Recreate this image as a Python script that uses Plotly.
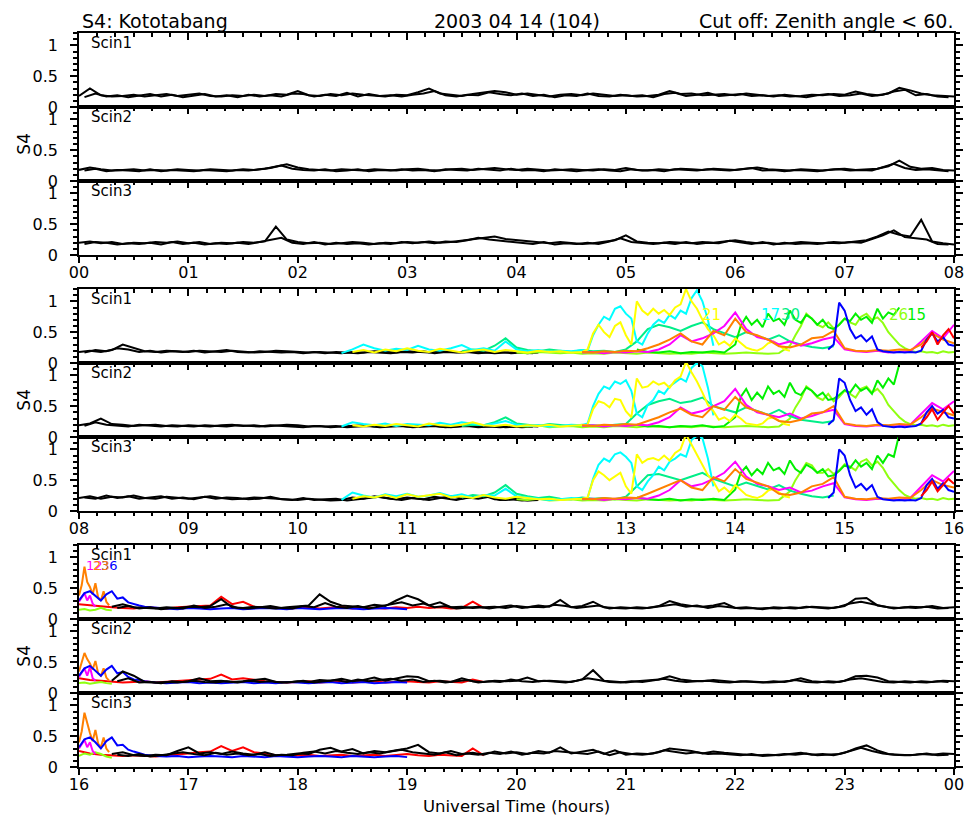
import numpy as np
import plotly.graph_objects as go

# ---------------- data: S4 index x 100 ----------------
# top group 00-08 UT; series A sampled from 0.0 h, series B from 0.05 h, both every 0.1 h
T1_BLACK = [18, 30, 19, 17, 18, 20, 17, 19, 21, 18,
            20, 22, 18, 17, 19, 18, 20, 18, 21, 20,
            26, 19, 18, 21, 19, 22, 20, 19, 17, 20,
            19, 24, 30, 22, 20, 18, 21, 23, 26, 24,
            20, 22, 19, 17, 20, 21, 19, 22, 20, 18,
            19, 17, 18, 20, 26, 21, 22, 19, 20, 21,
            19, 22, 20, 18, 19, 17, 18, 20, 19, 21,
            20, 25, 21, 19, 22, 31, 27, 22, 19, 18, 17]
T2_BLACK = [18, 22, 19, 17, 18, 19, 17, 18, 17, 19,
            18, 17, 19, 18, 17, 19, 18, 20, 23, 27,
            22, 19, 18, 17, 19, 18, 17, 19, 18, 17,
            19, 20, 18, 17, 19, 20, 18, 19, 21, 19,
            18, 20, 19, 17, 18, 19, 18, 17, 19, 18,
            21, 18, 17, 19, 18, 20, 19, 18, 20, 19,
            18, 20, 22, 19, 18, 17, 19, 18, 17, 19,
            20, 18, 19, 20, 24, 33, 23, 20, 21, 18, 17]
T3_BLACK = [20, 22, 19, 21, 18, 20, 19, 21, 20, 22,
            19, 21, 18, 20, 19, 21, 20, 22, 46, 25,
            21, 19, 20, 18, 19, 21, 20, 18, 20, 19,
            21, 20, 22, 20, 21, 23, 25, 27, 30, 26,
            24, 22, 20, 19, 21, 20, 18, 19, 21, 24,
            32, 22, 20, 19, 21, 20, 19, 21, 20, 22,
            24, 21, 19, 20, 18, 19, 21, 20, 19, 21,
            20, 22, 24, 30, 38, 33, 30, 57, 22, 19, 17]
T1_BLACK_B = [16, 22, 17, 19, 16, 18, 21, 17, 20, 16,
              18, 21, 17, 19, 16, 20, 17, 19, 17, 22,
              21, 17, 20, 18, 23, 17, 21, 18, 19, 17,
              20, 22, 26, 19, 17, 20, 19, 24, 21, 19,
              22, 18, 20, 16, 19, 18, 22, 18, 17, 20,
              18, 19, 16, 21, 23, 18, 20, 23, 18, 19,
              21, 18, 19, 17, 20, 18, 16, 19, 21, 18,
              19, 22, 18, 20, 25, 28, 19, 21, 17, 16]
T2_BLACK_B = [17, 20, 16, 18, 17, 16, 19, 16, 18, 17,
              16, 18, 17, 16, 18, 17, 19, 21, 25, 20,
              18, 17, 19, 16, 17, 19, 16, 18, 17, 19,
              17, 18, 16, 19, 18, 17, 20, 18, 17, 20,
              17, 18, 16, 19, 17, 16, 18, 19, 17, 16,
              19, 17, 18, 16, 19, 18, 17, 19, 18, 17,
              19, 21, 17, 18, 16, 18, 17, 16, 18, 19,
              17, 18, 17, 22, 28, 21, 18, 19, 17, 16]
T3_BLACK_B = [18, 21, 20, 17, 19, 18, 20, 17, 21, 18,
              20, 17, 19, 18, 20, 18, 21, 25, 28, 20,
              18, 21, 17, 20, 18, 19, 17, 19, 18, 21,
              19, 21, 19, 22, 21, 24, 28, 25, 23, 21,
              20, 18, 21, 17, 19, 18, 20, 18, 22, 27,
              21, 19, 18, 20, 18, 21, 18, 20, 19, 23,
              20, 18, 21, 17, 20, 18, 19, 18, 20, 19,
              21, 20, 26, 32, 40, 29, 27, 25, 18, 17]

# middle group 08-16 UT
M1_BLACK = [18, 20, 18, 21, 30, 24, 19, 18, 20, 19,
            18, 20, 19, 18, 20, 19, 17, 18, 20, 19,
            18, 17, 18, 17, 16, 18, 17, 19, 18, 17,
            19, 18, 17, 19, 18, 17, 19, 18, 16, 17,
            18, 16, 17]
M2_BLACK = [19, 22, 30, 21, 20, 18, 19, 20, 18, 17,
            19, 18, 17, 19, 20, 18, 19, 17, 18, 20,
            19, 17, 18, 16, 17, 18, 19, 17, 18, 19,
            17, 18, 19, 17, 16, 18, 19, 17, 18, 16,
            17, 18, 17]
M3_BLACK = [21, 24, 20, 23, 22, 25, 21, 20, 23, 21,
            20, 22, 24, 21, 19, 20, 22, 21, 20, 19,
            18, 20, 19, 17, 18, 22, 20, 24, 21, 19,
            22, 20, 18, 21, 24, 20, 22, 25, 19, 18,
            20, 17, 18]
M1_BLACK_B = [17, 21, 19, 24, 22, 18, 20, 17, 19, 18,
              20, 17, 19, 21, 18, 17, 19, 18, 17, 18,
              16, 18, 16, 18, 17, 16, 18, 17, 16, 18,
              17, 19, 16, 18, 17, 18, 16, 17, 18, 16,
              17, 16]
M2_BLACK_B = [18, 24, 20, 19, 17, 20, 18, 17, 19, 18,
              17, 19, 18, 17, 19, 18, 17, 19, 18, 17,
              16, 18, 17, 18, 16, 17, 18, 16, 17, 18,
              16, 17, 18, 16, 17, 18, 16, 17, 16, 17,
              16, 17]
M3_BLACK_B = [22, 20, 25, 21, 24, 20, 22, 24, 20, 22,
              19, 23, 20, 22, 21, 19, 20, 23, 19, 18,
              21, 18, 19, 20, 17, 19, 21, 23, 20, 18,
              21, 19, 23, 20, 18, 22, 20, 23, 18, 19,
              17, 18]
# cyan: quiet part (0.1 h) then active part (0.05 h)
M1_CYAN_LOW = [16, 22, 30, 24, 20, 23, 21, 28, 22, 20,
               24, 29, 21, 24, 20, 35, 22, 19, 21, 18,
               20, 19, 21]
M2_CYAN_LOW = [17, 24, 21, 19, 22, 18, 21, 20, 19, 23,
               20, 24, 21, 19, 22, 26, 20, 18, 19, 17,
               18, 20, 19]
M3_CYAN_LOW = [18, 30, 25, 22, 27, 24, 28, 23, 25, 29,
               24, 27, 22, 26, 25, 36, 24, 22, 20, 18,
               19, 21, 20]
M1_CYAN_HIGH = [20, 45, 62, 75, 70, 88, 92, 80, 72, 35, 30, 48,
                62, 70, 65, 78, 72, 85, 80, 105, 118, 100, 70, 28]
M2_CYAN_HIGH = [22, 50, 70, 82, 78, 90, 86, 92, 75, 38, 32, 52,
                60, 75, 70, 82, 88, 95, 90, 112, 120, 115, 80, 35]
M3_CYAN_HIGH = [21, 52, 75, 85, 80, 92, 95, 88, 78, 40, 34, 48,
                58, 72, 66, 80, 85, 92, 88, 115, 122, 118, 85, 40]
M1_YELLOW_LOW = [18, 21, 17, 22, 19, 24, 20, 18, 23, 20,
                 17, 20, 22, 18, 21, 19, 17, 20, 18, 19,
                 17, 18]
M2_YELLOW_LOW = [19, 17, 20, 18, 21, 19, 17, 22, 19, 18,
                 20, 24, 19, 18, 20, 17, 19, 18, 20, 17,
                 18, 19]
M3_YELLOW_LOW = [20, 24, 22, 26, 21, 27, 23, 25, 28, 22,
                 24, 21, 26, 22, 20, 23, 21, 19, 20, 18,
                 19, 20]
M1_YELLOW_HIGH = [22, 48, 62, 50, 42, 60, 66, 45, 30, 100,
                  85, 78, 88, 80, 86, 78, 90, 95, 120, 100,
                  88, 70, 55, 45, 30, 35, 28, 40, 32, 25,
                  22, 20, 24, 32, 35, 28, 22, 20]
M2_YELLOW_HIGH = [20, 45, 58, 55, 48, 62, 60, 42, 32, 95,
                  80, 82, 90, 85, 88, 80, 92, 98, 122, 105,
                  90, 72, 52, 42, 28, 32, 26, 36, 30, 22,
                  20, 19, 22, 30, 32, 26, 21, 19]
M3_YELLOW_HIGH = [22, 50, 64, 58, 50, 56, 62, 40, 28, 92,
                  78, 84, 86, 82, 90, 82, 94, 100, 124, 108,
                  92, 75, 58, 48, 32, 38, 30, 42, 34, 26,
                  23, 21, 25, 33, 36, 30, 24, 22]
M1_SPRING = [19, 22, 20, 28, 40, 25, 21, 19, 22, 20,
             18, 21, 19, 20, 18, 22, 35, 55, 62, 58,
             52, 60, 66, 55, 48, 42, 50, 44, 38, 45,
             35, 30, 26, 24, 27]
M2_SPRING = [18, 20, 19, 24, 32, 22, 20, 18, 21, 19,
             18, 20, 19, 18, 20, 21, 38, 52, 58, 62,
             55, 58, 64, 50, 45, 40, 48, 42, 36, 44,
             34, 28, 25, 23, 26]
M3_SPRING = [22, 26, 24, 30, 42, 28, 24, 21, 23, 20,
             19, 22, 20, 21, 19, 23, 40, 58, 60, 55,
             50, 56, 62, 52, 46, 40, 46, 40, 35, 42,
             33, 28, 24, 22, 25]
M1_GREEN_LOW = [22, 18, 17, 19, 16, 18, 17, 19, 17]
M2_GREEN_LOW = [20, 17, 18, 16, 18, 17, 19, 16, 18]
M3_GREEN_LOW = [22, 19, 18, 20, 17, 19, 18, 20, 18]
M1_GREEN_HIGH = [30, 60, 75, 62, 70, 58, 80, 68, 72, 62,
                 85, 70, 65, 78, 72, 62, 70, 58, 55, 62,
                 72, 68, 80, 70, 75, 65, 88, 72, 82, 78, 90]
M2_GREEN_HIGH = [32, 65, 78, 60, 72, 62, 82, 70, 75, 65,
                 88, 72, 68, 80, 75, 66, 72, 60, 62, 68,
                 76, 72, 85, 75, 80, 70, 92, 80, 95, 85, 118]
M3_GREEN_HIGH = [35, 62, 72, 58, 68, 60, 78, 66, 70, 60,
                 82, 68, 62, 75, 70, 62, 68, 56, 58, 65,
                 74, 70, 82, 72, 78, 68, 90, 78, 92, 88, 125]
M1_CHART_LOW = [17, 16, 18, 17, 16, 17, 15, 16, 15, 17,
                16, 15, 17, 16, 15, 16, 15, 17, 16, 15,
                16, 17, 16, 15, 16]
M2_CHART_LOW = [18, 17, 19, 16, 17, 18, 16, 17, 16, 18,
                17, 16, 18, 17, 16, 17, 16, 18, 17, 16,
                17, 18, 17, 16, 17]
M3_CHART_LOW = [19, 18, 20, 17, 18, 19, 17, 18, 17, 19,
                18, 17, 19, 18, 17, 18, 17, 19, 18, 17,
                18, 19, 18, 17, 18]
M1_CHART_HIGH = [22, 28, 45, 60, 80, 72, 62, 58, 66, 56,
                 62, 72, 66, 62, 75, 80, 70, 74, 65, 50,
                 40, 30, 24, 20, 18, 19, 17, 18, 16, 19, 17, 18]
M2_CHART_HIGH = [24, 30, 48, 62, 82, 75, 64, 60, 70, 58,
                 65, 75, 70, 64, 78, 82, 72, 78, 68, 52,
                 42, 32, 25, 21, 19, 20, 18, 19, 17, 20, 18, 19]
M3_CHART_HIGH = [25, 32, 50, 64, 78, 74, 62, 62, 68, 60,
                 66, 76, 72, 66, 80, 84, 74, 80, 70, 55,
                 44, 34, 26, 22, 20, 21, 19, 20, 18, 21, 19, 20]
M1_MAGENTA = [17, 18, 16, 18, 17, 19, 18, 22, 30, 45,
              35, 40, 48, 60, 82, 55, 42, 38, 30, 35,
              28, 32, 38, 42, 22, 19, 18, 20, 17, 18,
              19, 35, 52, 40, 62]
M2_MAGENTA = [18, 19, 17, 19, 18, 20, 19, 24, 32, 48,
              38, 42, 50, 58, 78, 52, 40, 36, 32, 38,
              30, 34, 40, 44, 21, 18, 17, 19, 18, 17,
              20, 38, 55, 45, 58]
M3_MAGENTA = [19, 20, 18, 20, 19, 21, 20, 25, 34, 50,
              40, 44, 52, 62, 80, 56, 44, 40, 34, 38,
              30, 33, 40, 45, 22, 19, 18, 20, 19, 18,
              21, 40, 58, 48, 65]
M1_ORANGE = [18, 17, 19, 18, 20, 19, 24, 30, 38, 48,
             35, 30, 52, 45, 72, 50, 45, 38, 27, 25,
             30, 40, 42, 52, 24, 20, 19, 21, 20, 22,
             21, 30, 48, 38, 32]
M2_ORANGE = [19, 18, 20, 19, 21, 20, 26, 32, 40, 46,
             36, 32, 50, 44, 65, 48, 42, 36, 26, 24,
             28, 38, 40, 50, 22, 19, 18, 20, 19, 21,
             20, 32, 46, 40, 35]
M3_ORANGE = [20, 19, 21, 20, 22, 21, 28, 35, 42, 50,
             38, 34, 55, 48, 68, 52, 46, 40, 28, 26,
             30, 40, 44, 55, 23, 20, 19, 21, 20, 22,
             21, 34, 50, 42, 38]
M1_BLUE = [22, 30, 98, 85, 55, 40, 45, 35, 43, 22, 19, 18,
           17, 18, 17, 18, 17, 20, 38, 48, 35, 42, 30, 28]
M2_BLUE = [20, 28, 95, 88, 60, 42, 48, 36, 45, 24, 18, 17,
           16, 17, 16, 17, 18, 22, 40, 50, 38, 44, 32, 30]
M3_BLUE = [21, 30, 100, 90, 58, 38, 44, 34, 42, 23, 19, 18,
           17, 18, 17, 18, 17, 21, 42, 52, 36, 45, 34, 31]
M1_RED = [25, 35, 50, 30, 45, 55, 40]
M2_RED = [22, 32, 45, 28, 40, 50, 38]
M3_RED = [24, 34, 48, 32, 42, 52, 44]

# bottom group 16-24 UT
B1_BLACK = [20, 24, 19, 18, 17, 19, 18, 20, 19, 21,
            32, 19, 18, 20, 19, 17, 19, 20, 22, 40,
            28, 22, 20, 19, 23, 21, 30, 38, 32, 22,
            27, 19, 20, 18, 19, 20, 18, 21, 19, 22,
            20, 31, 19, 21, 28, 19, 18, 17, 19, 18,
            21, 29, 24, 21, 20, 22, 26, 18, 19, 17,
            18, 17, 19, 18, 20, 19, 18, 21, 33, 34,
            22, 19, 18, 20, 19, 21, 18, 19]
B2_BLACK = [20, 35, 28, 18, 17, 18, 17, 19, 24, 19,
            20, 18, 19, 21, 23, 18, 17, 19, 18, 21,
            20, 23, 19, 21, 25, 20, 24, 27, 26, 19,
            20, 18, 24, 19, 18, 20, 19, 20, 25, 19,
            20, 19, 18, 22, 37, 20, 19, 17, 19, 20,
            22, 27, 22, 20, 19, 21, 19, 18, 19, 18,
            17, 18, 20, 24, 19, 18, 17, 20, 27, 28,
            25, 19, 18, 17, 19, 18, 20, 19]
B3_BLACK = [21, 24, 19, 18, 20, 19, 26, 32, 22, 24,
            21, 25, 22, 20, 24, 19, 20, 22, 21, 28,
            31, 25, 29, 22, 26, 24, 27, 30, 36, 24,
            22, 26, 21, 23, 20, 25, 22, 24, 21, 26,
            23, 32, 22, 25, 28, 21, 27, 20, 22, 21,
            24, 30, 28, 26, 22, 25, 23, 21, 20, 19,
            20, 19, 21, 23, 20, 21, 19, 23, 30, 35,
            27, 21, 20, 19, 21, 20, 22, 21]
B1_BLACK_B = [18, 21, 17, 19, 16, 18, 17, 22, 18, 20,
              24, 18, 17, 19, 21, 18, 17, 21, 19, 26,
              20, 18, 21, 17, 20, 24, 27, 22, 25, 19,
              21, 17, 19, 20, 17, 19, 22, 18, 20, 19,
              23, 21, 18, 20, 22, 17, 19, 18, 17, 19,
              22, 24, 20, 22, 18, 21, 19, 17, 18, 16,
              19, 18, 17, 20, 18, 17, 20, 25, 28, 24,
              20, 17, 19, 18, 20, 17, 18]
B2_BLACK_B = [19, 24, 17, 18, 16, 19, 18, 20, 18, 17,
              19, 17, 20, 18, 19, 17, 18, 20, 17, 19,
              21, 18, 22, 19, 21, 23, 20, 22, 18, 20,
              17, 19, 21, 17, 19, 18, 22, 19, 18, 20,
              18, 17, 20, 24, 21, 18, 17, 19, 18, 21,
              23, 20, 18, 19, 20, 18, 17, 19, 18, 17,
              19, 18, 21, 18, 17, 19, 18, 22, 24, 21,
              18, 17, 19, 18, 17, 19, 18]
B3_BLACK_B = [20, 18, 21, 17, 19, 22, 24, 21, 19, 23,
              20, 22, 19, 21, 18, 20, 19, 23, 25, 22,
              26, 23, 21, 24, 22, 25, 28, 24, 22, 20,
              24, 19, 22, 20, 23, 21, 25, 20, 23, 22,
              26, 24, 23, 21, 25, 19, 24, 21, 20, 22,
              27, 25, 22, 24, 21, 22, 20, 19, 21, 18,
              19, 21, 20, 22, 19, 20, 21, 26, 31, 26,
              22, 20, 19, 20, 22, 19, 20]
B1_RED = [24, 22, 20, 19, 18, 17, 19, 18, 17, 19,
          20, 21, 22, 36, 24, 28, 20, 19, 18, 17,
          18, 19, 17, 18, 20, 17, 19, 18, 17, 19,
          18, 20, 18, 19, 17, 18, 28, 18]
B2_RED = [24, 21, 20, 18, 17, 18, 19, 17, 18, 19,
          20, 21, 23, 30, 22, 24, 21, 19, 18, 17,
          18, 19, 17, 18, 19, 17, 18, 19, 17, 18,
          19, 18, 17, 19, 18, 17, 22, 18]
B3_RED = [26, 22, 20, 19, 18, 19, 18, 17, 19, 20,
          22, 24, 25, 34, 26, 32, 24, 22, 19, 18,
          19, 20, 18, 19, 20, 18, 19, 20, 18, 19,
          21, 19, 18, 20, 19, 18, 30, 19]
B1_BLUE_EARLY = [30, 42, 45, 38, 30, 40, 45, 33, 35, 27, 24, 22, 20]
B2_BLUE_EARLY = [28, 40, 44, 36, 28, 38, 44, 32, 34, 26, 22, 21, 19]
B3_BLUE_EARLY = [32, 45, 48, 40, 30, 42, 48, 35, 36, 28, 25, 22, 20]
B1_BLUE_LATE = [18, 17, 16, 18, 17, 16, 17, 18, 16, 17, 18, 17,
                16, 18, 17, 16, 17, 18, 17, 16, 17, 18, 17, 16]
B2_BLUE_LATE = [17, 16, 17, 18, 16, 17, 16, 17, 18, 16, 17, 16,
                18, 17, 16, 17, 18, 16, 17, 18, 16, 17, 18, 17]
B3_BLUE_LATE = [18, 17, 18, 16, 17, 18, 17, 16, 18, 17, 16, 18,
                17, 16, 17, 18, 17, 16, 18, 17, 16, 17, 18, 16]
B1_CHART = [15, 16, 14, 15, 18, 15, 14]
B2_CHART = [16, 17, 15, 16, 18, 16, 15]
B3_CHART = [18, 22, 20, 24, 21, 17, 15]
B1_MAGENTA = [28, 35, 42, 30, 38, 25, 20]
B2_MAGENTA = [26, 32, 40, 28, 42, 24, 20]
B3_MAGENTA = [30, 36, 44, 32, 40, 26, 21]
B1_ORANGE = [38, 55, 85, 60, 52, 40, 58, 35, 30, 45, 28, 22]
B2_ORANGE = [35, 50, 65, 55, 48, 38, 52, 32, 28, 40, 25, 20]
B3_ORANGE = [40, 58, 88, 70, 55, 42, 60, 38, 32, 48, 30, 24]

# sampling: start hour and step (hours) of every series kind
START = dict(T_BLACK=0.0, T_BLACK_B=0.05, M_BLACK=8.0, M_BLACK_B=8.05,
             M_CYAN_LOW=10.4, M_CYAN_HIGH=12.65, M_YELLOW_LOW=10.5, M_YELLOW_HIGH=12.65,
             M_SPRING=11.5, M_GREEN_LOW=13.1, M_GREEN_HIGH=14.0, M_CHART_LOW=12.0,
             M_CHART_HIGH=14.45, M_MAGENTA=12.6, M_ORANGE=12.6, M_BLUE=14.85, M_RED=15.7,
             B_BLACK=16.3, B_BLACK_B=16.35, B_RED=16.0, B_BLUE_EARLY=16.0,
             B_BLUE_LATE=16.7, B_CHART=16.0, B_MAGENTA=16.0, B_ORANGE=16.0)
STEP = dict(T_BLACK=0.1, T_BLACK_B=0.1, M_BLACK=0.1, M_BLACK_B=0.1,
            M_CYAN_LOW=0.1, M_CYAN_HIGH=0.05, M_YELLOW_LOW=0.1, M_YELLOW_HIGH=0.05,
            M_SPRING=0.1, M_GREEN_LOW=0.1, M_GREEN_HIGH=0.05, M_CHART_LOW=0.1,
            M_CHART_HIGH=0.05, M_MAGENTA=0.1, M_ORANGE=0.1, M_BLUE=0.05, M_RED=0.05,
            B_BLACK=0.1, B_BLACK_B=0.1, B_RED=0.1, B_BLUE_EARLY=0.05,
            B_BLUE_LATE=0.1, B_CHART=0.05, B_MAGENTA=0.025, B_ORANGE=0.025)

GROUP_HOURS = [(0, 8), (8, 16), (16, 24)]
TICK_TEXT = [["00", "01", "02", "03", "04", "05", "06", "07", "08"],
             ["08", "09", "10", "11", "12", "13", "14", "15", "16"],
             ["16", "17", "18", "19", "20", "21", "22", "23", "00"]]
PANEL_NAMES = ["Scin1", "Scin2", "Scin3"]

# PRN labels (panel, text, colour key, hour, S4)
PRN_LABELS = [(4, "21", "yellow", 13.68, 0.78), (4, "17", "cyan", 14.22, 0.78),
              (4, "30", "spring", 14.40, 0.78), (4, "26", "chart", 15.39, 0.78),
              (4, "15", "green", 15.55, 0.78), (4, "2", "red", 16.03, 0.78),
              (7, "36", "blue", 16.18, 0.86), (7, "12", "magenta", 16.05, 0.86),
              (7, "23", "orange", 16.11, 0.86)]

# ---------------- styling ----------------
COL = dict(black="#000000", cyan="#00FFFF", yellow="#FFFF00", green="#00F000",
           spring="#00EE88", chart="#90FF10", magenta="#FF00FF", orange="#FF8000",
           blue="#0000FF", red="#FF0000")
FONT = "DejaVu Sans"
OFF = 8                      # page body margin of the html page
W, H = 976 - OFF, 816 - OFF  # figure size so that it ends at the window edge
ML, MR, MT, MB = 79 - OFF, 12, 33 - OFF, 49
PH = H - MT - MB
PW = W - ML - MR
GROUP_TOP = [33, 289, 545]   # window pixels
PANEL_H = 74


def fy(py):
    return (H - MB - (py - OFF)) / PH


def fx(px):
    return (px - OFF - ML) / PW


fig = go.Figure()
layout = {}


def ax(name, k):
    return name if k == 1 else f"{name}{k}"


TICK = dict(tickcolor="black", tickwidth=2)
MTICK = dict(tickcolor="black", tickwidth=1.5)
for g in range(3):
    for r in range(3):
        k = g * 3 + r + 1
        top = GROUP_TOP[g] + r * PANEL_H
        bot = top + PANEL_H
        layout[ax("xaxis", k)] = dict(
            domain=[0, 1], anchor=f"y{k}", range=list(GROUP_HOURS[g]), side="top",
            ticks="inside", ticklen=7, **TICK,
            tickmode="linear", dtick=1, tick0=0, showticklabels=False,
            showline=True, linewidth=1.6, linecolor="black", mirror=True,
            showgrid=False, zeroline=False, layer="above traces",
            minor=dict(ticks="inside", ticklen=4, **MTICK,
                       tickmode="linear", dtick=1 / 6, tick0=0, showgrid=False))
        layout[ax("yaxis", k)] = dict(
            domain=[fy(bot), fy(top)], anchor=f"x{k}", range=[0, 1.2],
            ticks="outside", ticklen=7, **TICK,
            tickmode="linear", dtick=0.5, tick0=0,
            showline=True, linewidth=1.6, linecolor="black", mirror="ticks",
            showgrid=False, zeroline=False, ticklabelstandoff=9, layer="above traces",
            tickfont=dict(family=FONT, size=16, color="black"),
            minor=dict(ticks="outside", ticklen=4, **MTICK,
                       tickmode="linear", dtick=0.1, tick0=0, showgrid=False))
    # labelled bottom axis of each group
    kb = g * 3 + 3
    kx = 10 + g
    layout[f"xaxis{kx}"] = dict(
        overlaying=f"x{kb}", anchor=f"y{kb}", side="bottom", range=list(GROUP_HOURS[g]),
        ticks="outside", ticklen=7, **TICK,
        tickmode="array", tickvals=list(range(GROUP_HOURS[g][0], GROUP_HOURS[g][1] + 1)),
        ticktext=TICK_TEXT[g], tickfont=dict(family=FONT, size=16, color="black"),
        ticklabelstandoff=-4,
        showline=False, showgrid=False, zeroline=False,
        minor=dict(ticks="outside", ticklen=4, **MTICK,
                   tickmode="linear", dtick=1 / 6, tick0=0, showgrid=False))
    fig.add_trace(go.Scatter(x=[GROUP_HOURS[g][0]], y=[None], xaxis=f"x{kx}", yaxis=f"y{kb}",
                             mode="lines", showlegend=False, hoverinfo="skip"))


def add(k, segments, color, width=2):
    """segments: list of (sampling key, values) joined into one line."""
    ts, vs = [], []
    for key, values in segments:
        v = np.array(values, dtype=float) / 100.0
        ts.append(START[key] + STEP[key] * np.arange(len(v)))
        vs.append(v)
    fig.add_trace(go.Scatter(x=np.concatenate(ts), y=np.concatenate(vs),
                             xaxis=ax("x", k), yaxis=ax("y", k), mode="lines",
                             line=dict(color=COL[color], width=width), showlegend=False,
                             hoverinfo="skip"))


for k, a, b in zip([1, 2, 3], [T1_BLACK, T2_BLACK, T3_BLACK],
                   [T1_BLACK_B, T2_BLACK_B, T3_BLACK_B]):
    add(k, [("T_BLACK_B", b)], "black")
    add(k, [("T_BLACK", a)], "black")

MID = {
    4: [("black", [("M_BLACK_B", M1_BLACK_B)]), ("black", [("M_BLACK", M1_BLACK)]),
        ("chart", [("M_CHART_LOW", M1_CHART_LOW), ("M_CHART_HIGH", M1_CHART_HIGH)]),
        ("spring", [("M_SPRING", M1_SPRING)]),
        ("green", [("M_GREEN_LOW", M1_GREEN_LOW), ("M_GREEN_HIGH", M1_GREEN_HIGH)]),
        ("cyan", [("M_CYAN_LOW", M1_CYAN_LOW), ("M_CYAN_HIGH", M1_CYAN_HIGH)]),
        ("yellow", [("M_YELLOW_LOW", M1_YELLOW_LOW), ("M_YELLOW_HIGH", M1_YELLOW_HIGH)]),
        ("magenta", [("M_MAGENTA", M1_MAGENTA)]), ("orange", [("M_ORANGE", M1_ORANGE)]),
        ("blue", [("M_BLUE", M1_BLUE)]), ("red", [("M_RED", M1_RED)])],
    5: [("black", [("M_BLACK_B", M2_BLACK_B)]), ("black", [("M_BLACK", M2_BLACK)]),
        ("chart", [("M_CHART_LOW", M2_CHART_LOW), ("M_CHART_HIGH", M2_CHART_HIGH)]),
        ("spring", [("M_SPRING", M2_SPRING)]),
        ("green", [("M_GREEN_LOW", M2_GREEN_LOW), ("M_GREEN_HIGH", M2_GREEN_HIGH)]),
        ("cyan", [("M_CYAN_LOW", M2_CYAN_LOW), ("M_CYAN_HIGH", M2_CYAN_HIGH)]),
        ("yellow", [("M_YELLOW_LOW", M2_YELLOW_LOW), ("M_YELLOW_HIGH", M2_YELLOW_HIGH)]),
        ("magenta", [("M_MAGENTA", M2_MAGENTA)]), ("orange", [("M_ORANGE", M2_ORANGE)]),
        ("blue", [("M_BLUE", M2_BLUE)]), ("red", [("M_RED", M2_RED)])],
    6: [("black", [("M_BLACK_B", M3_BLACK_B)]), ("black", [("M_BLACK", M3_BLACK)]),
        ("chart", [("M_CHART_LOW", M3_CHART_LOW), ("M_CHART_HIGH", M3_CHART_HIGH)]),
        ("spring", [("M_SPRING", M3_SPRING)]),
        ("green", [("M_GREEN_LOW", M3_GREEN_LOW), ("M_GREEN_HIGH", M3_GREEN_HIGH)]),
        ("cyan", [("M_CYAN_LOW", M3_CYAN_LOW), ("M_CYAN_HIGH", M3_CYAN_HIGH)]),
        ("yellow", [("M_YELLOW_LOW", M3_YELLOW_LOW), ("M_YELLOW_HIGH", M3_YELLOW_HIGH)]),
        ("magenta", [("M_MAGENTA", M3_MAGENTA)]), ("orange", [("M_ORANGE", M3_ORANGE)]),
        ("blue", [("M_BLUE", M3_BLUE)]), ("red", [("M_RED", M3_RED)])],
}
for k, series in MID.items():
    for c, segs in series:
        add(k, segs, c)

BOT = {7: (B1_RED, B1_CHART, B1_MAGENTA, B1_ORANGE, B1_BLUE_EARLY, B1_BLUE_LATE, B1_BLACK_B, B1_BLACK),
       8: (B2_RED, B2_CHART, B2_MAGENTA, B2_ORANGE, B2_BLUE_EARLY, B2_BLUE_LATE, B2_BLACK_B, B2_BLACK),
       9: (B3_RED, B3_CHART, B3_MAGENTA, B3_ORANGE, B3_BLUE_EARLY, B3_BLUE_LATE, B3_BLACK_B, B3_BLACK)}
for k, (red, chart, mag, ora, be, bl, bkb, bk) in BOT.items():
    add(k, [("B_RED", red)], "red")
    add(k, [("B_CHART", chart)], "chart")
    add(k, [("B_MAGENTA", mag)], "magenta")
    add(k, [("B_ORANGE", ora)], "orange")
    add(k, [("B_BLUE_EARLY", be), ("B_BLUE_LATE", bl)], "blue")
    add(k, [("B_BLACK_B", bkb)], "black")
    add(k, [("B_BLACK", bk)], "black")

ann = []
for g in range(3):
    for r in range(3):
        k = g * 3 + r + 1
        ann.append(dict(text=PANEL_NAMES[r], xref=f"{ax('x', k)} domain", yref=f"{ax('y', k)} domain",
                        x=10 / PW, y=1 - 10 / PANEL_H, xanchor="left", yanchor="middle",
                        showarrow=False, font=dict(family=FONT, size=15, color="black")))
    ann.append(dict(text="S4", xref="paper", yref="paper", x=fx(23),
                    y=fy(GROUP_TOP[g] + 1.5 * PANEL_H), textangle=-90,
                    xanchor="center", yanchor="middle", showarrow=False,
                    font=dict(family=FONT, size=17, color="black")))

for k, txt, c, hx, vy in PRN_LABELS:
    ann.append(dict(text=txt, xref=ax("x", k), yref=ax("y", k), x=hx, y=vy,
                    xanchor="left", yanchor="middle", showarrow=False,
                    font=dict(family=FONT, size=15 if k == 4 else 13, color=COL[c])))

TITLE_Y = 21
ann += [
    dict(text="S4: Kototabang", xref="paper", yref="paper", x=fx(80), y=fy(TITLE_Y),
         xanchor="left", yanchor="middle", showarrow=False,
         font=dict(family=FONT, size=19, color="black")),
    dict(text="2003 04 14 (104)", xref="paper", yref="paper", x=fx(522), y=fy(TITLE_Y),
         xanchor="center", yanchor="middle", showarrow=False,
         font=dict(family=FONT, size=19, color="black")),
    dict(text="Cut off: Zenith angle < 60.", xref="paper", yref="paper", x=fx(965), y=fy(TITLE_Y),
         xanchor="right", yanchor="middle", showarrow=False,
         font=dict(family=FONT, size=19, color="black")),
    dict(text="Universal Time (hours)", xref="paper", yref="paper", x=fx(522), y=fy(806),
         xanchor="center", yanchor="middle", showarrow=False,
         font=dict(family=FONT, size=16.5, color="black")),
]

fig.update_layout(width=W, height=H, margin=dict(l=ML, r=MR, t=MT, b=MB),
                  paper_bgcolor="white", plot_bgcolor="rgba(0,0,0,0)", showlegend=False,
                  font=dict(family=FONT, color="black"), annotations=ann, **layout)

fig.write_html("out.html")
